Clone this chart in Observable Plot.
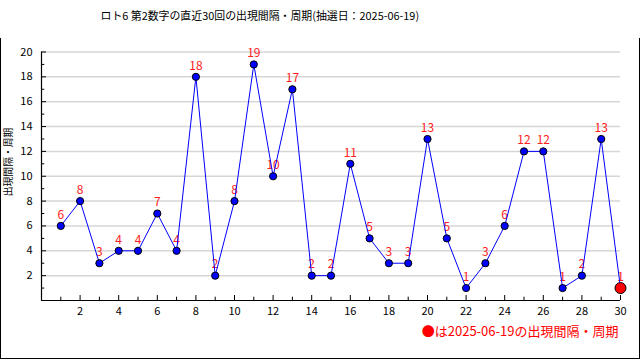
<!DOCTYPE html>
<html>
<head>
<meta charset="utf-8">
<script src="https://cdn.jsdelivr.net/npm/d3@7"></script>
<script src="https://cdn.jsdelivr.net/npm/@observablehq/plot@0.6"></script>
<style>
  html, body { margin: 0; padding: 0; background: #fff; }
  #wrap { position: relative; width: 640px; height: 360px; overflow: hidden; }
  #border { position: absolute; left: 0; top: 38px; height: 321px; width: 640px;
            border-left: 1px solid #000; border-right: 1px solid #000; border-bottom: 1px solid #000; box-sizing: border-box; }
  svg { font-family: "Noto Sans CJK JP", sans-serif; }
</style>
</head>
<body>
<div id="wrap"><div id="border"></div></div>
<script>
const titleText = "ロト6 第2数字の直近30回の出現間隔・周期(抽選日：2025-06-19)";
const yLabel = "出現間隔・周期";
const legendText = "●は2025-06-19の出現間隔・周期";
const draws = d3.range(1, 31);
const intervals = [6,8,3,4,4,7,4,18,2,8,19,10,17,2,2,11,5,3,3,13,5,1,3,6,12,12,1,2,13,1];
const xTickLabels = [2,4,6,8,10,12,14,16,18,20,22,24,26,28,30];
const yTickLabels = [2,4,6,8,10,12,14,16,18,20];
const xMinorTicks = [1,3,5,7,9,11,13,15,17,19,21,23,25,27,29];
const yMinorTicks = [1,3,5,7,9,11,13,15,17,19];

const data = draws.map((d, i) => ({draw: d, value: intervals[i]}));
const last = [data[data.length - 1]];
const rest = data.slice(0, -1);

const W = 640, H = 360, mL = 41, mR = 20, mT = 51.5, mB = 60;
const fw = W - mL - mR, fh = H - mT - mB;

const plot = Plot.plot({
  width: W,
  height: H,
  marginLeft: mL,
  marginRight: mR,
  marginTop: mT,
  marginBottom: mB,
  x: {domain: [0, 30], axis: null, label: null},
  y: {domain: [0, 20], axis: null, label: null},
  style: {fontFamily: '"Noto Sans CJK JP", sans-serif', background: "transparent"},
  marks: [
    Plot.ruleY(yTickLabels, {stroke: "#d6d6d6", strokeWidth: 1.5}),
    // inward ticks
    Plot.ruleY(yTickLabels, {stroke: "#000", insetRight: fw - 5}),
    Plot.ruleY(yMinorTicks, {stroke: "#000", insetRight: fw - 3.3}),
    Plot.ruleX(xTickLabels, {stroke: "#000", insetTop: fh - 5}),
    Plot.ruleX(xMinorTicks, {stroke: "#000", insetTop: fh - 3.3}),
    Plot.axisX(xTickLabels, {tickSize: 0, tickPadding: 7, fontSize: 11, fill: "#000", label: null}),
    Plot.axisY(yTickLabels, {tickSize: 0, tickPadding: 9, fontSize: 11, fill: "#000", label: null}),
    Plot.text(data, {x: "draw", y: "value", text: d => String(d.value), dy: -11, fill: "#ff2020", fontSize: 12}),
    Plot.line(data, {x: "draw", y: "value", stroke: "#0000ff", strokeWidth: 1}),
    Plot.dot(rest, {x: "draw", y: "value", r: 3.6, fill: "#0000ff", stroke: "#000", strokeWidth: 1}),
    Plot.dot(last, {x: "draw", y: "value", r: 5.5, fill: "#ff0000", stroke: "#000", strokeWidth: 1}),
    Plot.ruleX([0], {stroke: "#000", strokeWidth: 1.2}),
    Plot.ruleY([0], {stroke: "#000", strokeWidth: 1.2}),
    Plot.text([titleText], {frameAnchor: "top-left", textAnchor: "start", dx: 59, dy: -39.5, fontSize: 10.9, fill: "#000"}),
    Plot.text([yLabel], {frameAnchor: "left", rotate: -90, dx: -33, dy: 20, fontSize: 9.8, fill: "#000"}),
    Plot.text([legendText], {frameAnchor: "bottom-right", textAnchor: "end", dx: -2, dy: 35, fontSize: 13, fill: "#ff0000"})
  ]
});
document.getElementById("wrap").prepend(plot);
</script>
</body>
</html>
